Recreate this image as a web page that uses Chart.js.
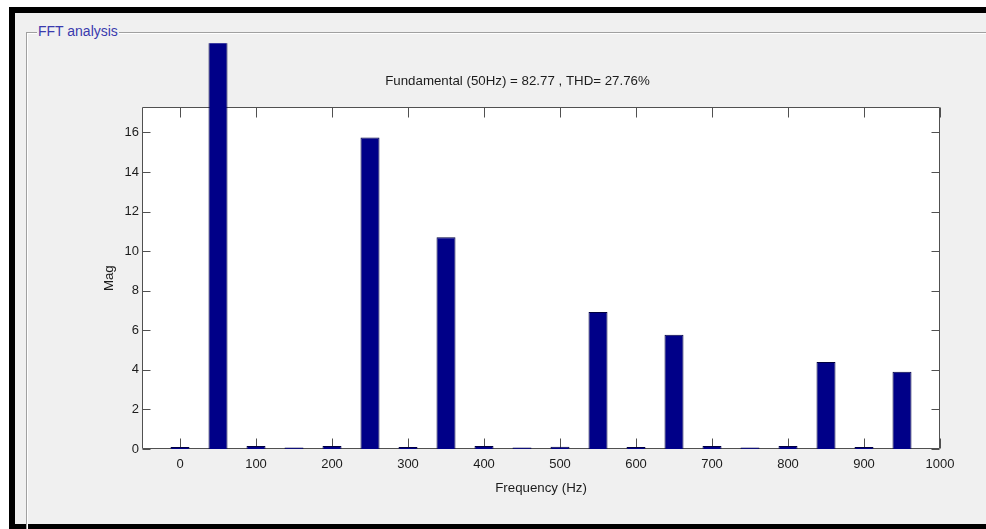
<!DOCTYPE html>
<html lang="en">
<head>
  <meta charset="UTF-8" />
  <title>FFT analysis</title>
  <script src="https://cdn.jsdelivr.net/npm/chart.js"></script>
  <style>
    * {
      box-sizing: border-box;
    }

    body {
      margin: 0;
      width: 986px;
      height: 529px;
      overflow: hidden;
      position: relative;
      background: #ffffff;
      font-family: 'Liberation Sans', Arial, sans-serif;
    }

    /* dark window frame, open on the right side */
    .window {
      position: absolute;
      left: 9px;
      top: 7px;
      width: 1000px;
      height: 522px;
      border: 6px solid #000;
      border-bottom-width: 5px;
      border-right: none;
      background: #f0f0f0;
    }

    /* etched group box */
    .group {
      position: absolute;
      left: 26px;
      top: 32px;
      width: 1000px;
      height: 600px;
      border-top: 1px solid #a0a0a0;
      border-left: 1px solid #a0a0a0;
      box-shadow: inset 1px 1px 0 #ffffff;
    }

    .group-label {
      position: absolute;
      left: 37px;
      top: 23px;
      padding: 0 1px;
      background: #f0f0f0;
      color: #3a3aae;
      font-size: 14px;
      line-height: 17px;
    }

    #fftChart {
      position: absolute;
      left: 0;
      top: 0;
    }
  </style>
</head>
<body>
  <div class="window"></div>
  <div class="group"></div>
  <div class="group-label">FFT analysis</div>
  <canvas id="fftChart" width="986" height="529"></canvas>

  <script>
    // harmonic spectrum, magnitude in % of the fundamental
    const freqHz = [0, 50, 100, 150, 200, 250, 300, 350, 400, 450,
                    500, 550, 600, 650, 700, 750, 800, 850, 900, 950];
    const magnitude = [0.1, 100, 0.15, 0.08, 0.15, 15.75, 0.1, 10.7, 0.15, 0.08,
                       0.12, 6.93, 0.1, 5.77, 0.15, 0.08, 0.15, 4.4, 0.1, 3.9];

    const xTickValues = [0, 100, 200, 300, 400, 500, 600, 700, 800, 900, 1000];
    const yTickValues = [0, 2, 4, 6, 8, 10, 12, 14, 16];

    const freqMin = -50;
    const freqMax = 1000;
    const magMax = 17.27;

    const titleText = 'Fundamental (50Hz) = 82.77 , THD= 27.76%';
    const xTitle = 'Frequency (Hz)';
    const yTitle = 'Mag';

    const textColor = '#1c1c1c';
    const axisColor = '#505050';
    const barColor = '#000088';
    const fontFamily = "'Liberation Sans', Arial, sans-serif";

    // white plot area, box on all four sides and inward ticks
    const axesBox = {
      id: 'axesBox',
      beforeDraw(chart) {
        const { ctx, chartArea: a } = chart;
        ctx.save();
        ctx.fillStyle = '#ffffff';
        ctx.fillRect(a.left, a.top, a.right - a.left, a.bottom - a.top);
        ctx.restore();
      },
      beforeDatasetsDraw(chart) {
        const { ctx, chartArea: a, scales: { x, y } } = chart;
        const L = Math.round(a.left) + 0.5;
        const R = Math.round(a.right) - 0.5;
        const T = Math.round(a.top) + 0.5;
        const B = Math.round(a.bottom) - 0.5;
        ctx.save();
        ctx.strokeStyle = axisColor;
        ctx.lineWidth = 1;
        ctx.beginPath();
        ctx.rect(L, T, R - L, B - T);
        xTickValues.forEach(v => {
          const px = Math.round(x.getPixelForValue(v)) + 0.5;
          ctx.moveTo(px, B);
          ctx.lineTo(px, B - 10);
          ctx.moveTo(px, T);
          ctx.lineTo(px, T + 10);
        });
        yTickValues.forEach(v => {
          const py = Math.round(y.getPixelForValue(v)) + 0.5;
          ctx.moveTo(L, py);
          ctx.lineTo(L + 8, py);
          ctx.moveTo(R, py);
          ctx.lineTo(R - 8, py);
        });
        ctx.stroke();
        ctx.restore();
      }
    };

    new Chart(document.getElementById('fftChart'), {
      type: 'bar',
      data: {
        datasets: [{
          data: freqHz.map((f, i) => ({ x: f, y: magnitude[i] })),
          backgroundColor: barColor,
          borderColor: '#000040',
          borderWidth: 1,
          barPercentage: 0.5,
          categoryPercentage: 1,
          // the fundamental runs past the axes top, cut off near the panel edge
          clip: { left: 0, top: 64, right: 0, bottom: 0 }
        }]
      },
      options: {
        responsive: false,
        animation: false,
        layout: {
          padding: { left: 95, right: 46, top: 0, bottom: 25 }
        },
        plugins: {
          legend: { display: false },
          tooltip: { enabled: false },
          title: {
            display: true,
            text: titleText,
            color: textColor,
            font: { family: fontFamily, size: 13.3, weight: 'normal' },
            padding: { top: 73, bottom: 18.4 }
          }
        },
        scales: {
          x: {
            type: 'linear',
            min: freqMin,
            max: freqMax,
            offset: false,
            grid: { display: false, drawTicks: false, offset: false },
            border: { display: false },
            afterBuildTicks: scale => {
              scale.ticks = xTickValues.map(v => ({ value: v }));
            },
            afterFit: scale => { scale.height = 55; },
            ticks: {
              color: textColor,
              font: { family: fontFamily, size: 13 },
              padding: 8,
              maxRotation: 0,
              autoSkip: false,
              callback: v => String(v)
            },
            title: {
              display: true,
              text: xTitle,
              color: textColor,
              font: { family: fontFamily, size: 13.3 },
              padding: { top: 0, bottom: 8 }
            }
          },
          y: {
            min: 0,
            max: magMax,
            grid: { display: false, drawTicks: false },
            border: { display: false },
            afterBuildTicks: scale => {
              scale.ticks = yTickValues.map(v => ({ value: v }));
            },
            afterFit: scale => { scale.width = 47; },
            ticks: {
              color: textColor,
              font: { family: fontFamily, size: 13 },
              padding: 3,
              callback: v => String(v)
            },
            title: {
              display: true,
              text: yTitle,
              color: textColor,
              font: { family: fontFamily, size: 13.3 },
              padding: { top: 6, bottom: 0 }
            }
          }
        }
      },
      plugins: [axesBox]
    });
  </script>
</body>
</html>
